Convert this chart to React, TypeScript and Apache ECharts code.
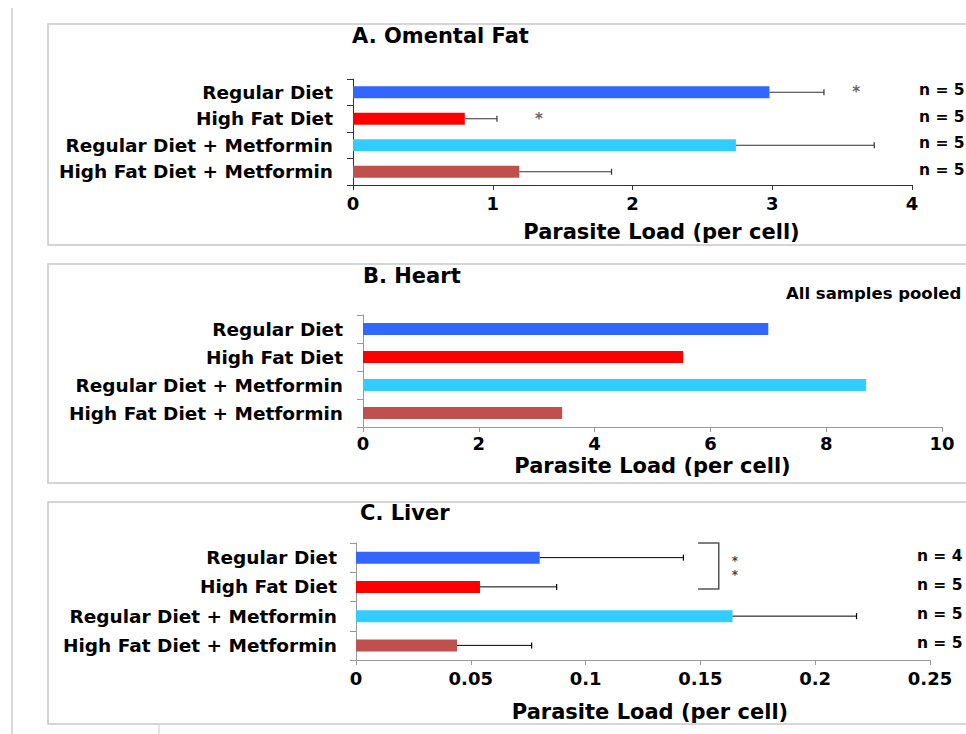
import React, { useEffect, useRef } from "react";
import * as echarts from "echarts";

// ---------- data ----------
const categories = [
  "Regular Diet",
  "High Fat Diet",
  "Regular Diet + Metformin",
  "High Fat Diet + Metformin",
];
const barColors = ["#3366FF", "#FF0000", "#33CCFF", "#C0504D"];

// A. Omental Fat
const omentalMeans = [2.98, 0.8, 2.74, 1.19];
const omentalUpper = [3.37, 1.03, 3.73, 1.85];
const omentalN = ["n = 5", "n = 5", "n = 5", "n = 5"];
const omentalStars = [
  [3.6, 0, 0],
  [1.33, 1, 0],
];
const omentalTicks = [0, 1, 2, 3, 4];

// B. Heart
const heartMeans = [7.0, 5.53, 8.69, 3.44];
const heartTicks = [0, 2, 4, 6, 8, 10];

// C. Liver
const liverMeans = [0.08, 0.054, 0.164, 0.044];
const liverUpper = [0.1426, 0.0874, 0.218, 0.0765];
const liverN = ["n = 4", "n = 5", "n = 5", "n = 5"];
const liverStars = [
  [0.165, 0, 0.1],
  [0.165, 0, 0.6],
];
const liverBracket = [[0.149, 0.158, 0, 1]];
const liverTicks = [0, 0.05, 0.1, 0.15, 0.2, 0.25];

const axisTitle = "Parasite Load (per cell)";
const FONT = "DejaVu Sans";

// ---------- helpers ----------
function xAxisFor(ticks: number[], gridIndex: number, opts: any) {
  return {
    type: "value",
    gridIndex,
    min: ticks[0],
    max: ticks[ticks.length - 1],
    interval: ticks[1] - ticks[0],
    splitLine: { show: false },
    axisLine: { show: true, lineStyle: { color: opts.lineColor, width: 1 } },
    axisTick: { show: true, length: 5, lineStyle: { color: opts.lineColor } },
    axisLabel: {
      margin: opts.labelMargin,
      color: "#000",
      fontFamily: FONT,
      fontWeight: "bold",
      fontSize: 18,
      showMaxLabel: true,
      showMinLabel: true,
    },
    name: axisTitle,
    nameLocation: "middle",
    nameGap: opts.nameGap,
    nameTextStyle: {
      color: "#000",
      fontFamily: FONT,
      fontWeight: "bold",
      fontSize: 21,
      padding: [0, 0, 0, opts.nameShift],
    },
  };
}

function yAxisFor(gridIndex: number, lineColor: string, margin: number) {
  return {
    type: "category",
    gridIndex,
    data: categories,
    inverse: true,
    axisLine: { show: true, lineStyle: { color: lineColor, width: 1 } },
    axisTick: { show: true, length: 6, lineStyle: { color: lineColor } },
    axisLabel: {
      margin,
      color: "#000",
      fontFamily: FONT,
      fontWeight: "bold",
      fontSize: 18.5,
    },
    splitLine: { show: false },
  };
}

function barSeries(means: number[], idx: number) {
  return {
    type: "bar",
    xAxisIndex: idx,
    yAxisIndex: idx,
    barWidth: 12,
    data: means.map((v, i) => ({ value: v, itemStyle: { color: barColors[i] } })),
    z: 2,
  };
}

function errorSeries(means: number[], upper: number[], idx: number, color: string) {
  return {
    type: "custom",
    xAxisIndex: idx,
    yAxisIndex: idx,
    data: means.map((m, i) => [m, upper[i], i]),
    encode: { x: [0, 1], y: 2 },
    z: 3,
    renderItem: (params: any, api: any) => {
      const cat = api.value(2);
      const p0 = api.coord([api.value(0), cat]);
      const p1 = api.coord([api.value(1), cat]);
      const h = 3;
      return {
        type: "group",
        children: [
          {
            type: "line",
            shape: { x1: p0[0], y1: p0[1], x2: p1[0], y2: p1[1] },
            style: { stroke: color, lineWidth: 1 },
          },
          {
            type: "line",
            shape: { x1: p1[0], y1: p1[1] - h, x2: p1[0], y2: p1[1] + h },
            style: { stroke: color, lineWidth: 1.2 },
          },
        ],
      };
    },
  };
}

function nSeries(labels: string[], xPos: number, idx: number) {
  return {
    type: "custom",
    xAxisIndex: idx,
    yAxisIndex: idx,
    data: labels.map((_, i) => [xPos, i]),
    encode: { x: 0, y: 1 },
    z: 4,
    renderItem: (params: any, api: any) => {
      const p = api.coord([api.value(0), api.value(1)]);
      return {
        type: "text",
        x: p[0],
        y: p[1] - 2,
        style: {
          text: labels[params.dataIndex],
          fill: "#000",
          fontFamily: FONT,
          fontWeight: "bold",
          fontSize: 15.5,
          align: "left",
          verticalAlign: "middle",
        },
      };
    },
  };
}

function starSeries(stars: number[][], idx: number, color: string, size: number) {
  return {
    type: "custom",
    xAxisIndex: idx,
    yAxisIndex: idx,
    data: stars,
    encode: { x: 0, y: 1 },
    z: 4,
    renderItem: (params: any, api: any) => {
      const p = api.coord([api.value(0), api.value(1)]);
      const band = api.size([0, 1])[1];
      return {
        type: "text",
        x: p[0],
        y: p[1] + api.value(2) * band,
        style: {
          text: "*",
          fill: color,
          fontFamily: FONT,
          fontWeight: "bold",
          fontSize: size,
          align: "center",
          verticalAlign: "middle",
        },
      };
    },
  };
}

function bracketSeries(data: number[][], idx: number) {
  return {
    type: "custom",
    xAxisIndex: idx,
    yAxisIndex: idx,
    data,
    encode: { x: [0, 1], y: 2 },
    z: 4,
    renderItem: (params: any, api: any) => {
      const x0 = api.value(0);
      const x1 = api.value(1);
      const band = api.size([0, 1])[1];
      const top = api.coord([x0, api.value(2)]);
      const bot = api.coord([x0, api.value(3)]);
      const xr = api.coord([x1, api.value(2)])[0];
      const yTop = top[1] - band / 2;
      const yBot = bot[1] + 2;
      return {
        type: "polyline",
        shape: {
          points: [
            [top[0], yTop],
            [xr, yTop],
            [xr, yBot],
            [top[0], yBot],
          ],
        },
        style: { stroke: "#555", lineWidth: 1.5, fill: "none" },
      };
    },
  };
}

const titleStyle = {
  color: "#000",
  fontFamily: FONT,
  fontWeight: "bold",
  fontSize: 21,
};

const option: any = {
  animation: false,
  backgroundColor: "#fff",
  title: [
    { text: "A. Omental Fat", left: 352, top: 25, padding: 0, textStyle: titleStyle },
    { text: "B. Heart", left: 363, top: 265, padding: 0, textStyle: titleStyle },
    { text: "C. Liver", left: 360, top: 502, padding: 0, textStyle: titleStyle },
    {
      text: "All samples pooled",
      left: 786,
      top: 285,
      padding: 0,
      textStyle: { ...titleStyle, fontSize: 16.5 },
    },
  ],
  grid: [
    { left: 353, right: 54, top: 79, bottom: 549, outerBoundsMode: "none" },
    { left: 363, right: 24, top: 315, bottom: 307, outerBoundsMode: "none" },
    { left: 356, right: 36, top: 543, bottom: 74, outerBoundsMode: "none" },
  ],
  xAxis: [
    xAxisFor(omentalTicks, 0, { lineColor: "#333", labelMargin: 9, nameGap: 36, nameShift: 58 }),
    xAxisFor(heartTicks, 1, { lineColor: "#999", labelMargin: 7, nameGap: 28, nameShift: 0 }),
    xAxisFor(liverTicks, 2, { lineColor: "#999", labelMargin: 9, nameGap: 41, nameShift: 14 }),
  ],
  yAxis: [yAxisFor(0, "#333", 20), yAxisFor(1, "#999", 20), yAxisFor(2, "#999", 19)],
  series: [
    barSeries(omentalMeans, 0),
    errorSeries(omentalMeans, omentalUpper, 0, "#333"),
    nSeries(omentalN, 4.05, 0),
    starSeries(omentalStars, 0, "#666", 15),
    barSeries(heartMeans, 1),
    barSeries(liverMeans, 2),
    errorSeries(liverMeans, liverUpper, 2, "#000"),
    nSeries(liverN, 0.2443, 2),
    starSeries(liverStars, 2, "#444", 12),
    bracketSeries(liverBracket, 2),
  ],
  graphic: [
    {
      type: "line",
      shape: { x1: 12, y1: 8, x2: 12, y2: 734 },
      style: { stroke: "#cccccc", lineWidth: 1.5 },
      silent: true,
    },
    {
      type: "line",
      shape: { x1: 159, y1: 725, x2: 159, y2: 734 },
      style: { stroke: "#dddddd", lineWidth: 1.5 },
      silent: true,
    },
    {
      type: "rect",
      shape: { x: 48, y: 24, width: 1000, height: 221 },
      style: { stroke: "#c8c8c8", lineWidth: 1.5, fill: "none" },
      silent: true,
      z: -1,
    },
    {
      type: "rect",
      shape: { x: 48, y: 264, width: 1000, height: 219 },
      style: { stroke: "#c8c8c8", lineWidth: 1.5, fill: "none" },
      silent: true,
      z: -1,
    },
    {
      type: "rect",
      shape: { x: 48, y: 502, width: 1000, height: 222 },
      style: { stroke: "#c8c8c8", lineWidth: 1.5, fill: "none" },
      silent: true,
      z: -1,
    },
  ],
};

export default function App() {
  const ref = useRef<HTMLDivElement>(null);
  useEffect(() => {
    document.body.style.margin = "0";
    const chart = echarts.init(ref.current!, null, { renderer: "svg" });
    chart.setOption(option);
    return () => chart.dispose();
  }, []);
  return <div ref={ref} style={{ width: 966, height: 734, background: "#fff" }} />;
}
